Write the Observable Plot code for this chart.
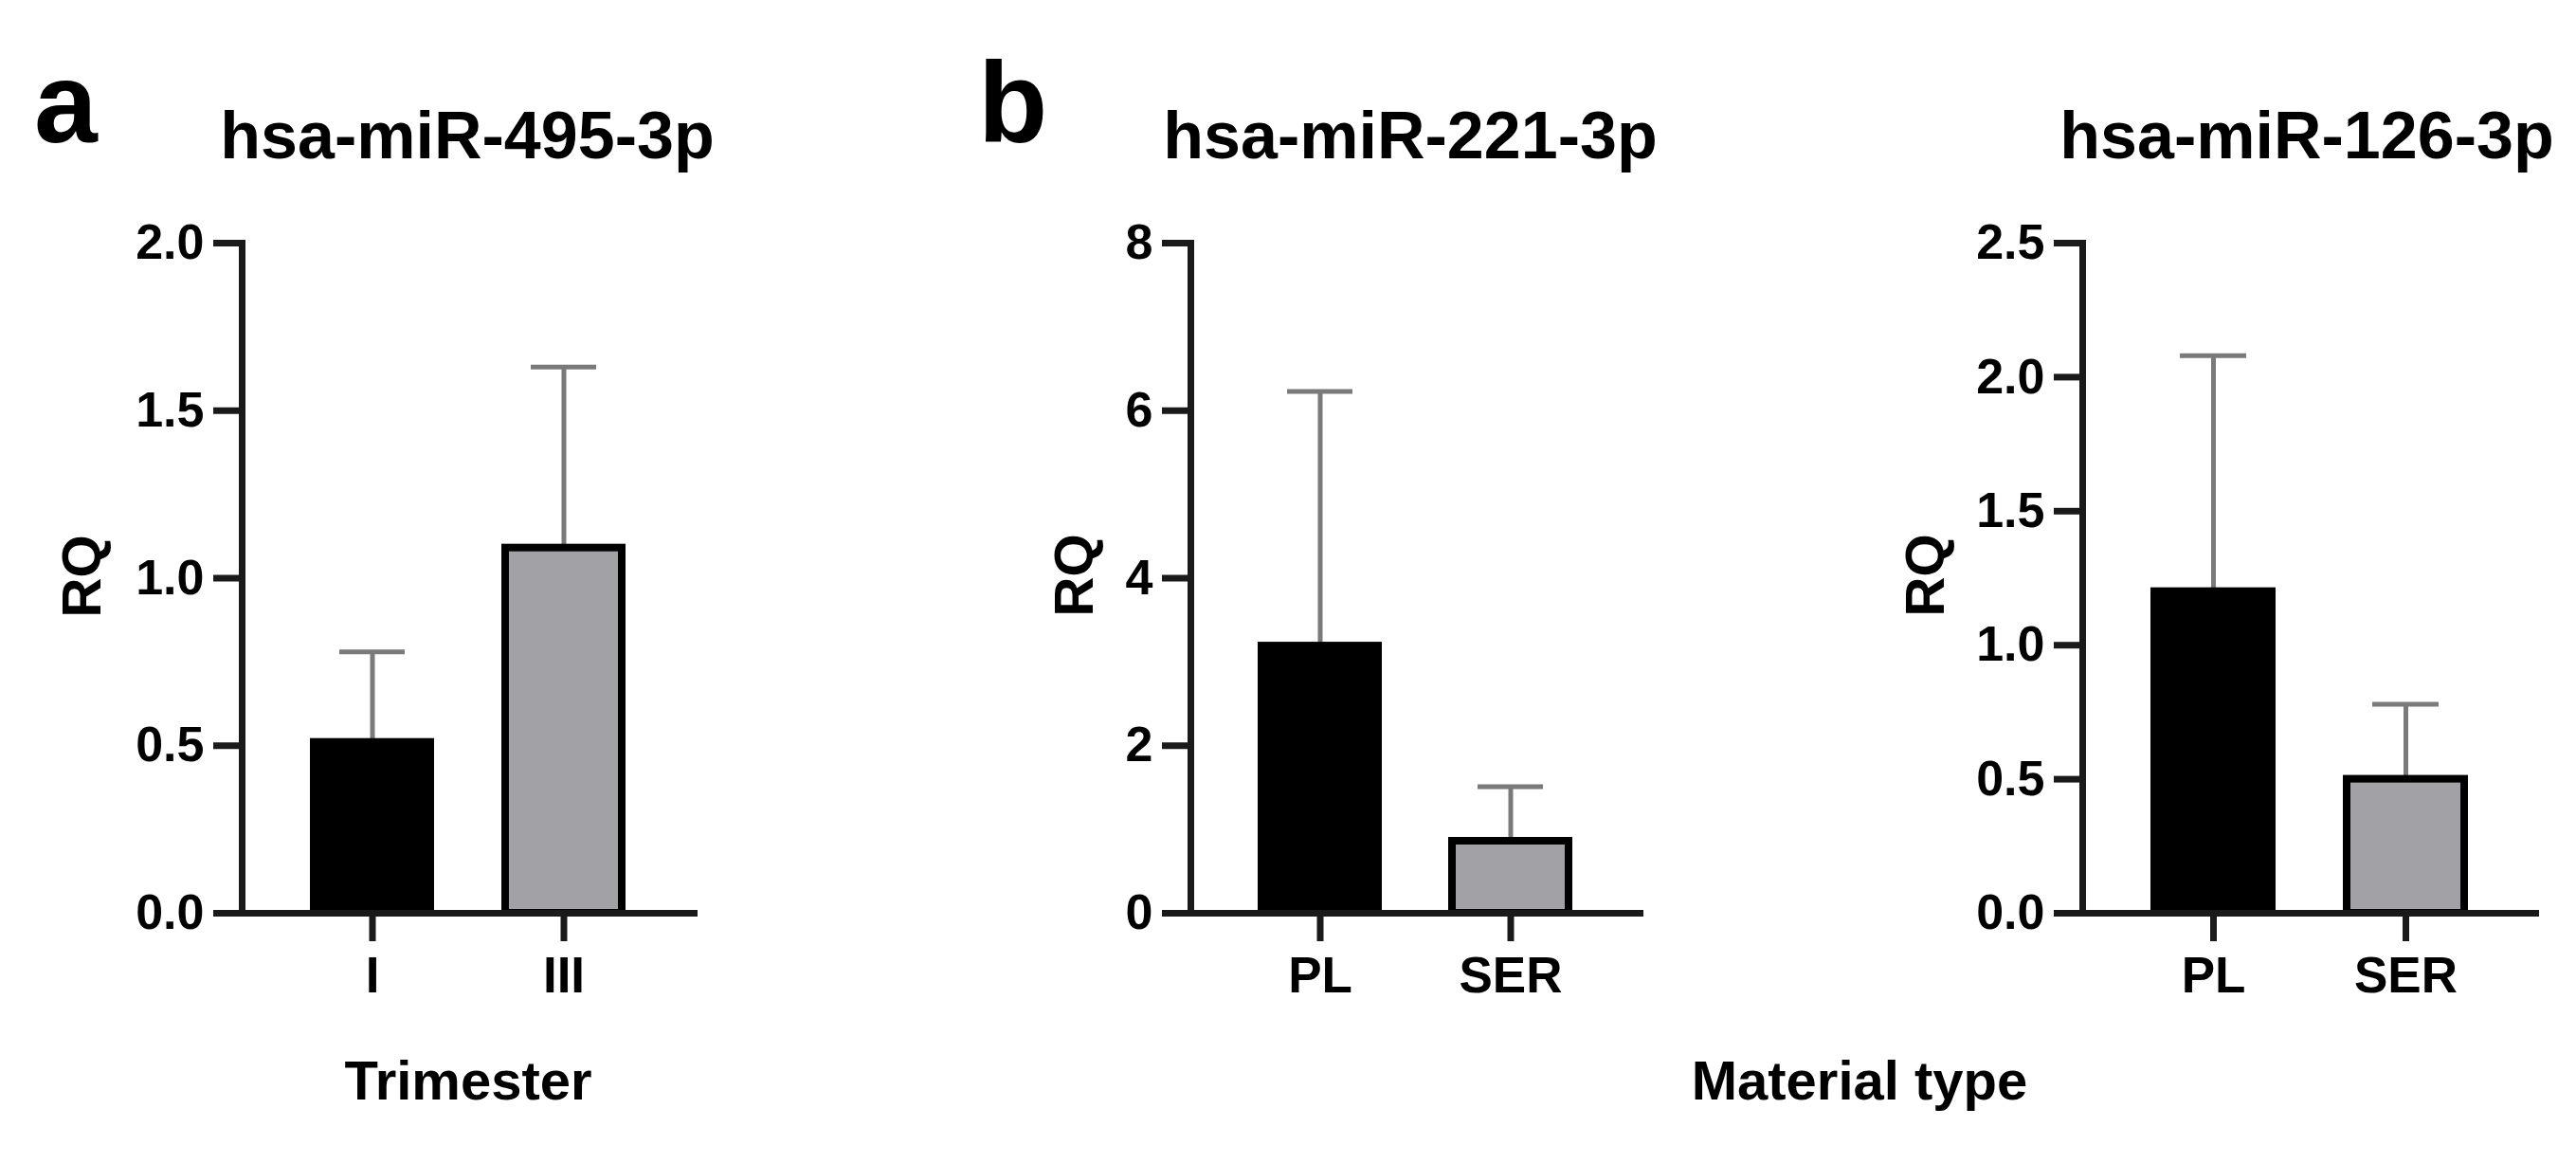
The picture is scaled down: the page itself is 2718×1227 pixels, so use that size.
<!DOCTYPE html>
<html><head><meta charset="utf-8">
<script src="https://cdn.jsdelivr.net/npm/d3@7"></script>
<script src="https://cdn.jsdelivr.net/npm/@observablehq/plot@0.6"></script>
<style>
body{margin:0;background:#fff;}
#root{position:relative;width:2718px;height:1227px;overflow:hidden;background:#fff;font-family:"Liberation Sans",Arial,sans-serif;}
#root svg{position:absolute;max-width:none;}
</style></head><body><div id="root"></div>
<script>
// ---- data ----
const panelLetters = ["a", "b"];
const panelTitles = ["hsa-miR-495-3p", "hsa-miR-221-3p", "hsa-miR-126-3p"];
const xTitles = ["Trimester", "Material type"];
const yTitle = "RQ";
const trimesters = ["I", "III"];
const materials = ["PL", "SER"];
const rq495 = [0.51, 1.09];
const rq495Upper = [0.78, 1.63];
const rq221 = [3.19, 0.86];
const rq221Upper = [6.23, 1.51];
const rq126 = [1.20, 0.50];
const rq126Upper = [2.08, 0.78];
const ticks495 = [0, 0.5, 1, 1.5, 2];
const ticks221 = [0, 2, 4, 6, 8];
const ticks126 = [0, 0.5, 1, 1.5, 2, 2.5];
const barFills = ["#000000", "#a2a2a6"];

const FONT = "Liberation Sans, Arial, sans-serif";
const root = document.getElementById("root");

function panel({cats, values, uppers, yDomain, yTicks, fmt, left, marginLeft, frameWidth}) {
  const data = cats.map((c, i) => ({cat: c, value: values[i], upper: uppers[i], fill: barFills[i]}));
  const top = 200, marginTop = 56, frameBottom = 963, marginBottom = 110, marginRight = 20;
  const svg = Plot.plot({
    width: marginLeft + frameWidth + marginRight,
    height: frameBottom - top + marginBottom,
    marginTop, marginBottom, marginLeft, marginRight,
    style: {fontFamily: FONT, background: "transparent", overflow: "visible"},
    x: {domain: cats, paddingInner: 0.39, paddingOuter: 0.37, axis: null},
    y: {domain: yDomain, axis: null},
    color: {type: "identity"},
    marks: [
      Plot.ruleX(data, {x: "cat", y1: "value", y2: "upper", stroke: "#7a7a7a", strokeWidth: 5}),
      Plot.tickY(data, {x: "cat", y: "upper", stroke: "#7a7a7a", strokeWidth: 5, inset: 27}),
      Plot.barY(data, {x: "cat", y: "value", fill: "fill", stroke: "#000", strokeWidth: 8}),
      Plot.axisY({ticks: yTicks, tickFormat: fmt, tickSize: 30, tickPadding: 10, fontSize: 52, fontWeight: "bold",
                  stroke: "#1a1a1a", strokeWidth: 7, fill: "#000", label: null}),
      Plot.axisX({tickSize: 30, tickPadding: 16, fontSize: 53, fontWeight: "bold",
                  stroke: "#1a1a1a", strokeWidth: 7, fill: "#000", label: null}),
      Plot.frame({anchor: "left", stroke: "#1a1a1a", strokeWidth: 7}),
      Plot.frame({anchor: "bottom", stroke: "#1a1a1a", strokeWidth: 7})
    ]
  });
  svg.style.left = left + "px";
  svg.style.top = top + "px";
  root.appendChild(svg);
}

panel({cats: trimesters, values: rq495, uppers: rq495Upper, yDomain: [0, 2], yTicks: ticks495, fmt: d3.format(".1f"),
       left: 0, marginLeft: 255, frameWidth: 477});
panel({cats: materials, values: rq221, uppers: rq221Upper, yDomain: [0, 8], yTicks: ticks221, fmt: d3.format("d"),
       left: 1000, marginLeft: 256, frameWidth: 474});
panel({cats: materials, values: rq126, uppers: rq126Upper, yDomain: [0, 2.5], yTicks: ticks126, fmt: d3.format(".1f"),
       left: 1941, marginLeft: 256, frameWidth: 478});

// ---- annotation text overlay ----
const ov = d3.create("svg").attr("width", 2718).attr("height", 1227)
  .style("left", "0px").style("top", "0px").style("font-family", FONT).style("pointer-events", "none");
const txt = (s, x, y, size, anchor = "middle", rot = 0) => {
  const t = ov.append("text").text(s).attr("font-size", size).attr("font-weight", "bold")
    .attr("fill", "#000").attr("text-anchor", anchor);
  if (rot) t.attr("transform", `translate(${x},${y}) rotate(${rot})`);
  else t.attr("x", x).attr("y", y);
};
txt(panelLetters[0], 36, 150, 120, "start");
txt(panelLetters[1], 1032, 150, 120, "start");
txt(panelTitles[0], 493, 167, 70);
txt(panelTitles[1], 1488, 167, 70);
txt(panelTitles[2], 2434, 167, 70);
txt(xTitles[0], 494, 1160, 58);
txt(xTitles[1], 1962, 1160, 58);
txt(yTitle, 106, 608, 58, "middle", -90);
txt(yTitle, 1153, 607, 58, "middle", -90);
txt(yTitle, 2051, 607, 58, "middle", -90);
root.appendChild(ov.node());
</script></body></html>
